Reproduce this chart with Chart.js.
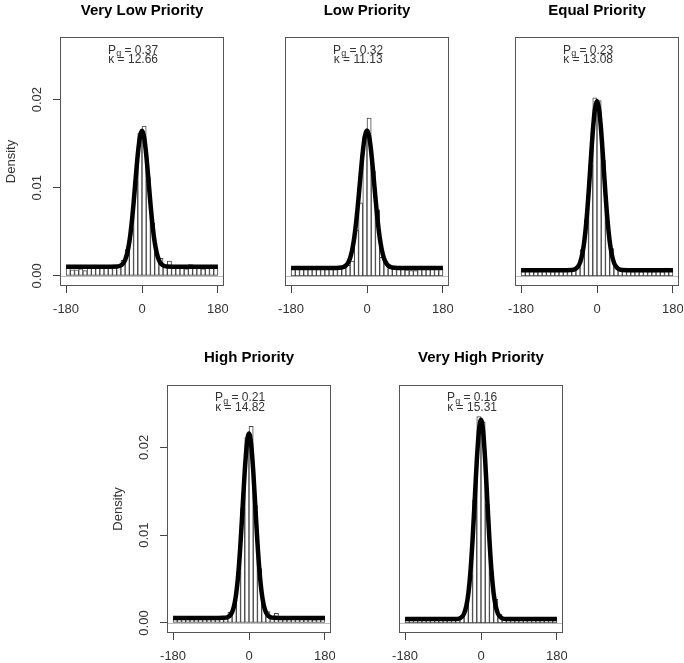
<!DOCTYPE html>
<html><head><meta charset="utf-8">
<script src="https://cdn.jsdelivr.net/npm/chart.js@4/dist/chart.umd.min.js"></script>
<style>
html,body{margin:0;padding:0;background:#fff;}
#wrap{position:relative;width:684px;height:663px;overflow:hidden;background:#fff;}
#wrap canvas{position:absolute;}
</style></head><body><div id="wrap"></div>
<script>
// ---------- data ----------
const panelTitles = ["Very Low Priority", "Low Priority", "Equal Priority", "High Priority", "Very High Priority"];
const pgValues = [0.37, 0.32, 0.23, 0.21, 0.16];
const kappaValues = [12.66, 11.13, 13.08, 14.82, 15.31];
const xTicks = [-180, 0, 180];
const yTicks = [0, 0.01, 0.02];
const yAxisTitle = "Density";

const binCenters = [-175,-165,-155,-145,-135,-125,-115,-105,-95,-85,-75,-65,-55,-45,-35,-25,-15,-5,5,15,25,35,45,55,65,75,85,95,105,115,125,135,145,155,165,175];

const histVeryLow = [0.0009,0.0007,0.0007,0.0008,0.0006,0.0009,0.0009,0.0009,0.0009,0.0010,0.0010,0.0011,0.0011,0.0018,0.0030,0.0054,0.0108,0.0162,0.0170,0.0112,0.0060,0.0026,0.0020,0.0012,0.0017,0.0011,0.0010,0.0010,0.0008,0.0013,0.0009,0.0009,0.0008,0.0010,0.0009,0.0010];
const histLow = [0.0009,0.0010,0.0009,0.0009,0.0008,0.0008,0.0009,0.0008,0.0009,0.0008,0.0009,0.0008,0.0009,0.0012,0.0017,0.0052,0.0083,0.0158,0.0179,0.0119,0.0075,0.0021,0.0017,0.0010,0.0008,0.0008,0.0008,0.0007,0.0006,0.0006,0.0009,0.0008,0.0009,0.0010,0.0011,0.0009];
const histEqual = [0.0006,0.0006,0.0006,0.0005,0.0006,0.0006,0.0006,0.0005,0.0006,0.0006,0.0006,0.0006,0.0007,0.0010,0.0030,0.0064,0.0126,0.0202,0.0199,0.0131,0.0062,0.0031,0.0012,0.0008,0.0006,0.0006,0.0005,0.0006,0.0005,0.0006,0.0005,0.0005,0.0006,0.0005,0.0009,0.0007];
const histHigh = [0.0005,0.0005,0.0005,0.0005,0.0005,0.0005,0.0006,0.0005,0.0005,0.0005,0.0005,0.0005,0.0006,0.0012,0.0021,0.0058,0.0131,0.0211,0.0224,0.0134,0.0062,0.0020,0.0013,0.0008,0.0011,0.0006,0.0005,0.0005,0.0005,0.0005,0.0005,0.0005,0.0005,0.0004,0.0005,0.0006];
const histVeryHigh = [0.0004,0.0004,0.0004,0.0004,0.0004,0.0004,0.0004,0.0004,0.0004,0.0004,0.0004,0.0004,0.0005,0.0007,0.0019,0.0055,0.0140,0.0235,0.0229,0.0135,0.0058,0.0027,0.0010,0.0006,0.0005,0.0004,0.0004,0.0004,0.0004,0.0004,0.0004,0.0004,0.0004,0.0004,0.0004,0.0005];

const curveX = [-180,-120,-90,-60,-50,-45,-40,-35,-30,-25,-20,-15,-10,-5,0,5,10,15,20,25,30,35,40,45,50,60,90,120,180];
const curveVeryLow = [0.00103,0.00103,0.00103,0.00106,0.00120,0.00141,0.00183,0.00259,0.00386,0.00575,0.00823,0.01106,0.01377,0.01575,0.01648,0.01575,0.01377,0.01106,0.00823,0.00575,0.00386,0.00259,0.00183,0.00141,0.00120,0.00106,0.00103,0.00103,0.00103];
const curveLow = [0.00089,0.00089,0.00089,0.00095,0.00118,0.00149,0.00204,0.00298,0.00440,0.00639,0.00887,0.01157,0.01407,0.01586,0.01650,0.01586,0.01407,0.01157,0.00887,0.00639,0.00440,0.00298,0.00204,0.00149,0.00118,0.00095,0.00089,0.00089,0.00089];
const curveEqual = [0.00064,0.00064,0.00064,0.00067,0.00082,0.00106,0.00154,0.00244,0.00397,0.00628,0.00936,0.01294,0.01638,0.01891,0.01984,0.01891,0.01638,0.01294,0.00936,0.00628,0.00397,0.00244,0.00154,0.00106,0.00082,0.00067,0.00064,0.00064,0.00064];
const curveHigh = [0.00058,0.00058,0.00058,0.00060,0.00069,0.00086,0.00124,0.00202,0.00347,0.00582,0.00917,0.01325,0.01734,0.02042,0.02158,0.02042,0.01734,0.01325,0.00917,0.00582,0.00347,0.00202,0.00124,0.00086,0.00069,0.00060,0.00058,0.00058,0.00058];
const curveVeryHigh = [0.00044,0.00044,0.00044,0.00045,0.00054,0.00070,0.00108,0.00187,0.00336,0.00585,0.00946,0.01391,0.01843,0.02185,0.02314,0.02185,0.01843,0.01391,0.00946,0.00585,0.00336,0.00187,0.00108,0.00070,0.00054,0.00045,0.00044,0.00044,0.00044];

const histSeries = [histVeryLow, histLow, histEqual, histHigh, histVeryHigh];
const curveSeries = [curveVeryLow, curveLow, curveEqual, curveHigh, curveVeryHigh];

// ---------- layout / style ----------
const FONT = "'Liberation Sans', Arial, Helvetica, sans-serif";
const X_RANGE = [-194.4, 194.4];
const Y_RANGE = [-0.00114, 0.0271];
const panels = [
  {left: 0,   top: 0,   w: 228, h: 331, yAxis: true,  tTop: 2,  tBot: 17, xH: 45},
  {left: 225, top: 0,   w: 228, h: 331, yAxis: false, tTop: 2,  tBot: 17, xH: 45},
  {left: 455, top: 0,   w: 228, h: 331, yAxis: false, tTop: 2,  tBot: 17, xH: 45},
  {left: 107, top: 331, w: 228, h: 332, yAxis: true,  tTop: 18, tBot: 18, xH: 30},
  {left: 339, top: 331, w: 228, h: 332, yAxis: false, tTop: 18, tBot: 18, xH: 30}
];
const annotPos = {x: -21, y1: 0.0256, y2: 0.0245};

Chart.defaults.font.family = FONT;
Chart.defaults.color = '#333';

const framePlugin = {
  id: 'frame',
  beforeDatasetsDraw(chart) {
    const {ctx, chartArea: a, scales: {y}} = chart;
    const y0 = Math.round(y.getPixelForValue(0)) + 0.5;
    ctx.save();
    ctx.strokeStyle = '#bdbdbd'; ctx.lineWidth = 1;
    ctx.beginPath(); ctx.moveTo(a.left, y0); ctx.lineTo(a.right, y0); ctx.stroke();
    ctx.restore();
  },
  afterDraw(chart) {
    const {ctx, chartArea: a} = chart;
    ctx.save();
    ctx.strokeStyle = '#555'; ctx.lineWidth = 1;
    ctx.strokeRect(Math.round(a.left) + 0.5, Math.round(a.top) + 0.5, Math.round(a.right - a.left) - 1, Math.round(a.bottom - a.top) - 1);
    ctx.restore();
  }
};

const annotPlugin = {
  id: 'annot',
  afterDatasetsDraw(chart, args, opts) {
    const {ctx, scales: {x, y}} = chart;
    const cx = x.getPixelForValue(annotPos.x);
    ctx.save();
    ctx.fillStyle = '#333';
    ctx.textBaseline = 'middle';
    ctx.textAlign = 'left';
    const big = '12px ' + FONT, small = '9px ' + FONT;
    const rest1 = ' = ' + opts.pg.toFixed(2);
    ctx.font = big; const wP = ctx.measureText('P').width; const wR = ctx.measureText(rest1).width;
    ctx.font = small; const wg = ctx.measureText('g').width;
    const sx = cx - (wP + wg + wR) / 2;
    const y1 = y.getPixelForValue(annotPos.y1);
    ctx.font = big; ctx.fillText('P', sx, y1);
    ctx.font = small; ctx.fillText('g', sx + wP, y1 + 3);
    ctx.font = big; ctx.fillText(rest1, sx + wP + wg, y1);
    const t2 = '\u03BA = ' + opts.kappa.toFixed(2);
    const y2 = y.getPixelForValue(annotPos.y2);
    ctx.textAlign = 'center';
    ctx.fillText(t2, cx, y2);
    ctx.restore();
  }
};

const wrap = document.getElementById('wrap');
panels.forEach((p, i) => {
  const c = document.createElement('canvas');
  c.width = p.w; c.height = p.h;
  c.style.left = p.left + 'px'; c.style.top = p.top + 'px';
  c.style.width = p.w + 'px'; c.style.height = p.h + 'px';
  wrap.appendChild(c);
  const hist = histSeries[i], curve = curveSeries[i];
  new Chart(c, {
    type: 'bar',
    data: {
      datasets: [
        {
          type: 'line',
          data: curveX.map((xv, k) => ({x: xv, y: curve[k]})),
          borderColor: '#000', borderWidth: 4.5, pointRadius: 0,
          cubicInterpolationMode: 'monotone', fill: false, order: 0
        },
        {
          type: 'bar',
          data: binCenters.map((xv, k) => ({x: xv, y: hist[k]})),
          backgroundColor: '#fff', borderColor: '#444', borderWidth: 1,
          borderSkipped: false, barPercentage: 1, categoryPercentage: 1, order: 1
        }
      ]
    },
    options: {
      responsive: false, animation: false, devicePixelRatio: 1,
      layout: {padding: {left: 0, right: 4, top: 0, bottom: 0}},
      plugins: {
        legend: {display: false}, tooltip: {enabled: false},
        title: {display: true, text: panelTitles[i], fullSize: false, color: '#000',
          font: {size: 15, weight: 'bold', family: FONT}, padding: {top: p.tTop, bottom: p.tBot}},
        annot: {pg: pgValues[i], kappa: kappaValues[i]}
      },
      scales: {
        x: {
          type: 'linear', min: X_RANGE[0], max: X_RANGE[1], offset: false,
          afterBuildTicks: s => { s.ticks = xTicks.map(v => ({value: v})); },
          afterFit: s => { s.height = p.xH; s.paddingLeft = 0; s.paddingRight = 0; },
          ticks: {autoSkip: false, maxRotation: 0, minRotation: 0, padding: 9, color: '#333', font: {size: 13},
            callback: v => String(v)},
          grid: {offset: false, drawOnChartArea: false, drawTicks: true, tickLength: 7, color: '#444'},
          border: {display: false}
        },
        y: {
          display: p.yAxis ? true : false,
          min: Y_RANGE[0], max: Y_RANGE[1],
          afterBuildTicks: s => { s.ticks = yTicks.map(v => ({value: v})); },
          afterFit: s => { s.width = 60; s.paddingTop = 0; s.paddingBottom = 0; },
          ticks: {minRotation: 90, maxRotation: 90, crossAlign: 'center', padding: 3, color: '#333', font: {size: 13},
            callback: v => v.toFixed(2)},
          grid: {offset: false, drawOnChartArea: false, drawTicks: true, tickLength: 7, color: '#444'},
          border: {display: false},
          title: {display: true, text: yAxisTitle, color: '#333', font: {size: 13}, padding: {top: 4, bottom: 0}}
        }
      }
    },
    plugins: [framePlugin, annotPlugin]
  });
});
</script></body></html>
